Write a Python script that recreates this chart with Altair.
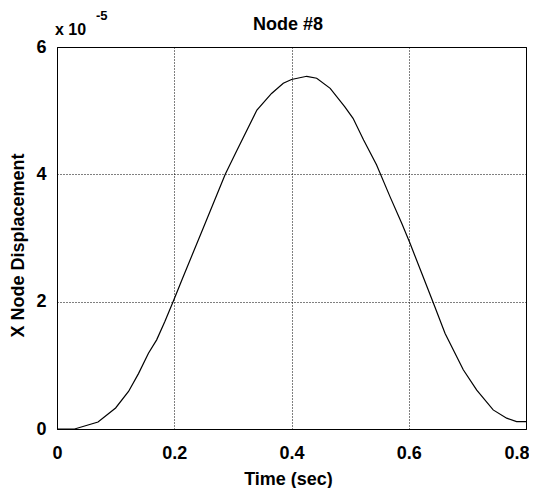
import altair as alt
import pandas as pd

# Time (sec)
time_s = [0, 0.03, 0.07, 0.10, 0.122, 0.139, 0.156, 0.170, 0.184, 0.198, 0.213,
          0.25, 0.287, 0.307, 0.341, 0.366, 0.386, 0.400, 0.426, 0.443, 0.466,
          0.491, 0.505, 0.523, 0.545, 0.568, 0.588, 0.602, 0.622, 0.642, 0.662,
          0.693, 0.716, 0.744, 0.767, 0.784, 0.8]
# X node displacement (x 1e-5)
disp = [0, 0, 0.11, 0.33, 0.59, 0.87, 1.19, 1.40, 1.69, 2.0, 2.34,
        3.17, 4.0, 4.38, 5.01, 5.27, 5.43, 5.49, 5.54, 5.51, 5.35,
        5.06, 4.88, 4.54, 4.15, 3.65, 3.23, 2.92, 2.45, 1.98, 1.50,
        0.93, 0.61, 0.30, 0.17, 0.115, 0.115]

x_ticks = [0, 0.2, 0.4, 0.6, 0.8]
y_ticks = [0, 2, 4, 6]

title_text = "Node #8"
x_title = "Time (sec)"
y_title = "X Node Displacement"
exp_base = "x 10"
exp_power = "-5"

FONT = "Liberation Sans"

df = pd.DataFrame({"t": time_s, "d": disp})
one = pd.DataFrame({"a": [0]})

x_enc = alt.X("t:Q",
              scale=alt.Scale(domain=[0, 0.8], nice=False, zero=False),
              axis=alt.Axis(values=x_ticks, title=x_title,
                            labelExpr="datum.value == 0 ? '0' : format(datum.value, '.1f')",
                            labelFlush=False, labelPadding=15, tickSize=0,
                            labelAlign=alt.condition("datum.value >= 0.8", alt.value("right"), alt.value("center")),
                            labelOffset=alt.condition("datum.value >= 0.8", alt.value(3), alt.value(0)),
                            titleX=231, titleY=55, titleBaseline="alphabetic",
                            titleAnchor="middle"))
y_enc = alt.Y("d:Q",
              scale=alt.Scale(domain=[0, 6], nice=False),
              axis=alt.Axis(values=y_ticks, title=y_title, format="d",
                            labelPadding=11, tickSize=0,
                            titleX=-39, titleY=198, titleBaseline="middle",
                            titleAngle=-90))

line = alt.Chart(df).mark_line(color="black", strokeWidth=1.2).encode(x=x_enc, y=y_enc)

title_mark = alt.Chart(one).mark_text(
    text=title_text, font=FONT, fontWeight="bold", fontSize=18,
    align="center", baseline="alphabetic", color="black"
).encode(x=alt.value(231), y=alt.value(-17))

exp_mark = alt.Chart(one).mark_text(
    text=exp_base, font=FONT, fontWeight="bold", fontSize=16,
    align="left", baseline="alphabetic", color="black"
).encode(x=alt.value(-2), y=alt.value(-12))

pow_mark = alt.Chart(one).mark_text(
    text=exp_power, font=FONT, fontWeight="bold", fontSize=13,
    align="left", baseline="alphabetic", color="black"
).encode(x=alt.value(39), y=alt.value(-27))

chart = alt.layer(line, title_mark, exp_mark, pow_mark).properties(
    width=469, height=382,
    autosize=alt.AutoSizeParams(type="none"),
    padding={"left": 49, "top": 39, "right": 3, "bottom": 59},
    background="white",
).configure_view(
    stroke="black", strokeWidth=1
).configure_axis(
    grid=True, gridColor="black", gridDash=[1, 2], gridWidth=1, gridOpacity=1,
    domain=False,
    labelFont=FONT, labelFontWeight="bold", labelFontSize=18, labelColor="black",
    titleFont=FONT, titleFontWeight="bold", titleFontSize=18, titleColor="black",
)

chart.save("out.html", embed_options={"renderer": "svg", "actions": False})
